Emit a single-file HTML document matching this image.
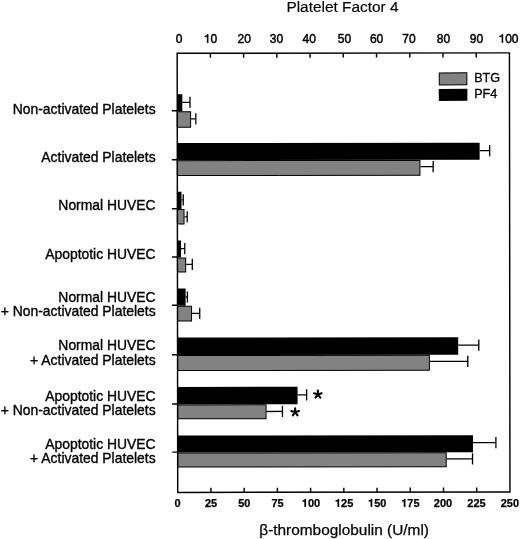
<!DOCTYPE html><html><head><meta charset="utf-8"><style>html,body{margin:0;padding:0;background:#fff;}svg{display:block;}text{font-family:"Liberation Sans",sans-serif;fill:#000;}</style></head><body>
<svg width="520" height="539" viewBox="0 0 520 539">
<rect width="520" height="539" fill="#fff"/>
<defs><filter id="bl" x="0" y="0" width="1" height="1"><feGaussianBlur stdDeviation="0.35"/></filter></defs><g filter="url(#bl)"><rect width="520" height="539" fill="#fff"/>
<g stroke="#000" stroke-width="0.35">
<text x="286.4" y="11.7" font-size="15.4" stroke-width="0.15">Platelet Factor 4</text>
<text x="175.76" y="42.80" font-size="12" stroke-width="0.45">0</text>
<path transform="translate(203.73,42.80) scale(0.01200,-0.01200)" d="M283 0L373 0L373 709L300 709C285 640 240 585 85 565L85 495L283 495Z" fill="#000" stroke="#000" stroke-width="37.5"/>
<text x="210.40" y="42.80" font-size="12" stroke-width="0.45">0</text>
<text x="237.53" y="42.80" font-size="12" stroke-width="0.45">2</text>
<text x="244.20" y="42.80" font-size="12" stroke-width="0.45">0</text>
<text x="269.83" y="42.80" font-size="12" stroke-width="0.45">3</text>
<text x="276.50" y="42.80" font-size="12" stroke-width="0.45">0</text>
<text x="302.53" y="42.80" font-size="12" stroke-width="0.45">4</text>
<text x="309.20" y="42.80" font-size="12" stroke-width="0.45">0</text>
<text x="337.83" y="42.80" font-size="12" stroke-width="0.45">5</text>
<text x="344.50" y="42.80" font-size="12" stroke-width="0.45">0</text>
<text x="369.93" y="42.80" font-size="12" stroke-width="0.45">6</text>
<text x="376.60" y="42.80" font-size="12" stroke-width="0.45">0</text>
<text x="402.33" y="42.80" font-size="12" stroke-width="0.45">7</text>
<text x="409.00" y="42.80" font-size="12" stroke-width="0.45">0</text>
<text x="436.83" y="42.80" font-size="12" stroke-width="0.45">8</text>
<text x="443.50" y="42.80" font-size="12" stroke-width="0.45">0</text>
<text x="469.73" y="42.80" font-size="12" stroke-width="0.45">9</text>
<text x="476.40" y="42.80" font-size="12" stroke-width="0.45">0</text>
<path transform="translate(498.49,42.80) scale(0.01200,-0.01200)" d="M283 0L373 0L373 709L300 709C285 640 240 585 85 565L85 495L283 495Z" fill="#000" stroke="#000" stroke-width="37.5"/>
<text x="505.16" y="42.80" font-size="12" stroke-width="0.45">0</text>
<text x="511.84" y="42.80" font-size="12" stroke-width="0.45">0</text>
<text x="174.44" y="506.80" font-size="11" font-weight="bold" stroke-width="0.25">0</text>
<text x="204.98" y="506.80" font-size="11" font-weight="bold" stroke-width="0.25">2</text>
<text x="211.10" y="506.80" font-size="11" font-weight="bold" stroke-width="0.25">5</text>
<text x="238.18" y="506.80" font-size="11" font-weight="bold" stroke-width="0.25">5</text>
<text x="244.30" y="506.80" font-size="11" font-weight="bold" stroke-width="0.25">0</text>
<text x="271.38" y="506.80" font-size="11" font-weight="bold" stroke-width="0.25">7</text>
<text x="277.50" y="506.80" font-size="11" font-weight="bold" stroke-width="0.25">5</text>
<path transform="translate(301.82,506.80) scale(0.01100,-0.01100)" d="M239 0L378 0L378 710L279 710C258 626 200 590 69 586L69 486L239 486Z" fill="#000" stroke="#000" stroke-width="22.7"/>
<text x="307.94" y="506.80" font-size="11" font-weight="bold" stroke-width="0.25">0</text>
<text x="314.06" y="506.80" font-size="11" font-weight="bold" stroke-width="0.25">0</text>
<path transform="translate(334.92,506.80) scale(0.01100,-0.01100)" d="M239 0L378 0L378 710L279 710C258 626 200 590 69 586L69 486L239 486Z" fill="#000" stroke="#000" stroke-width="22.7"/>
<text x="341.04" y="506.80" font-size="11" font-weight="bold" stroke-width="0.25">2</text>
<text x="347.16" y="506.80" font-size="11" font-weight="bold" stroke-width="0.25">5</text>
<path transform="translate(368.02,506.80) scale(0.01100,-0.01100)" d="M239 0L378 0L378 710L279 710C258 626 200 590 69 586L69 486L239 486Z" fill="#000" stroke="#000" stroke-width="22.7"/>
<text x="374.14" y="506.80" font-size="11" font-weight="bold" stroke-width="0.25">5</text>
<text x="380.26" y="506.80" font-size="11" font-weight="bold" stroke-width="0.25">0</text>
<path transform="translate(401.22,506.80) scale(0.01100,-0.01100)" d="M239 0L378 0L378 710L279 710C258 626 200 590 69 586L69 486L239 486Z" fill="#000" stroke="#000" stroke-width="22.7"/>
<text x="407.34" y="506.80" font-size="11" font-weight="bold" stroke-width="0.25">7</text>
<text x="413.46" y="506.80" font-size="11" font-weight="bold" stroke-width="0.25">5</text>
<text x="433.82" y="506.80" font-size="11" font-weight="bold" stroke-width="0.25">2</text>
<text x="439.94" y="506.80" font-size="11" font-weight="bold" stroke-width="0.25">0</text>
<text x="446.06" y="506.80" font-size="11" font-weight="bold" stroke-width="0.25">0</text>
<text x="467.32" y="506.80" font-size="11" font-weight="bold" stroke-width="0.25">2</text>
<text x="473.44" y="506.80" font-size="11" font-weight="bold" stroke-width="0.25">2</text>
<text x="479.56" y="506.80" font-size="11" font-weight="bold" stroke-width="0.25">5</text>
<text x="500.72" y="506.80" font-size="11" font-weight="bold" stroke-width="0.25">2</text>
<text x="506.84" y="506.80" font-size="11" font-weight="bold" stroke-width="0.25">5</text>
<text x="512.96" y="506.80" font-size="11" font-weight="bold" stroke-width="0.25">0</text>
<text x="155.6" y="113.95" font-size="13.9" text-anchor="end">Non-activated Platelets</text>
<text x="155.6" y="162.10" font-size="13.9" text-anchor="end">Activated Platelets</text>
<text x="155.6" y="209.70" font-size="13.9" text-anchor="end">Normal HUVEC</text>
<text x="155.6" y="259.20" font-size="13.9" text-anchor="end">Apoptotic HUVEC</text>
<text x="155.6" y="301.70" font-size="13.9" text-anchor="end">Normal HUVEC</text>
<text x="155.6" y="316.40" font-size="13.9" text-anchor="end">+ Non-activated Platelets</text>
<text x="155.6" y="350.40" font-size="13.9" text-anchor="end">Normal HUVEC</text>
<text x="155.6" y="364.50" font-size="13.9" text-anchor="end">+ Activated Platelets</text>
<text x="155.6" y="400.60" font-size="13.9" text-anchor="end">Apoptotic HUVEC</text>
<text x="155.6" y="414.50" font-size="13.9" text-anchor="end">+ Non-activated Platelets</text>
<text x="155.6" y="449.20" font-size="13.9" text-anchor="end">Apoptotic HUVEC</text>
<text x="155.6" y="462.80" font-size="13.9" text-anchor="end">+ Activated Platelets</text>
<text x="259.3" y="534.6" font-size="15.4" stroke-width="0.25">β-thromboglobulin (U/ml)</text>
</g>
<text x="474.2" y="81.6" font-size="12.6" stroke="#000" stroke-width="0.3">BTG</text>
<text x="474.2" y="97.5" font-size="12.6" stroke="#000" stroke-width="0.3">PF4</text>
<path d="M317.85 394.50L317.85 390.50M317.85 394.50L321.65 393.26M317.85 394.50L320.20 397.74M317.85 394.50L315.50 397.74M317.85 394.50L314.05 393.26" stroke="#000" stroke-width="2.1" stroke-linecap="round" fill="none"/>
<path d="M295.15 412.20L295.15 408.20M295.15 412.20L298.95 410.96M295.15 412.20L297.50 415.44M295.15 412.20L292.80 415.44M295.15 412.20L291.35 410.96" stroke="#000" stroke-width="2.1" stroke-linecap="round" fill="none"/>
<g transform="rotate(-0.07 343 272)">
<line x1="210.67" y1="53.10" x2="210.67" y2="57.60" stroke="#000" stroke-width="1.45"/>
<line x1="243.90" y1="53.10" x2="243.90" y2="57.60" stroke="#000" stroke-width="1.45"/>
<line x1="277.12" y1="53.10" x2="277.12" y2="57.60" stroke="#000" stroke-width="1.45"/>
<line x1="310.35" y1="53.10" x2="310.35" y2="57.60" stroke="#000" stroke-width="1.45"/>
<line x1="343.57" y1="53.10" x2="343.57" y2="57.60" stroke="#000" stroke-width="1.45"/>
<line x1="376.80" y1="53.10" x2="376.80" y2="57.60" stroke="#000" stroke-width="1.45"/>
<line x1="410.02" y1="53.10" x2="410.02" y2="57.60" stroke="#000" stroke-width="1.45"/>
<line x1="443.25" y1="53.10" x2="443.25" y2="57.60" stroke="#000" stroke-width="1.45"/>
<line x1="476.47" y1="53.10" x2="476.47" y2="57.60" stroke="#000" stroke-width="1.45"/>
<line x1="210.67" y1="492.20" x2="210.67" y2="487.70" stroke="#000" stroke-width="1.45"/>
<line x1="243.90" y1="492.20" x2="243.90" y2="487.70" stroke="#000" stroke-width="1.45"/>
<line x1="277.12" y1="492.20" x2="277.12" y2="487.70" stroke="#000" stroke-width="1.45"/>
<line x1="310.35" y1="492.20" x2="310.35" y2="487.70" stroke="#000" stroke-width="1.45"/>
<line x1="343.57" y1="492.20" x2="343.57" y2="487.70" stroke="#000" stroke-width="1.45"/>
<line x1="376.80" y1="492.20" x2="376.80" y2="487.70" stroke="#000" stroke-width="1.45"/>
<line x1="410.02" y1="492.20" x2="410.02" y2="487.70" stroke="#000" stroke-width="1.45"/>
<line x1="443.25" y1="492.20" x2="443.25" y2="487.70" stroke="#000" stroke-width="1.45"/>
<line x1="476.47" y1="492.20" x2="476.47" y2="487.70" stroke="#000" stroke-width="1.45"/>
<rect x="177.45" y="94.10" width="5.05" height="16.90" fill="#000"/>
<line x1="182.50" y1="102.20" x2="190.20" y2="102.20" stroke="#000" stroke-width="1.3"/>
<line x1="190.20" y1="96.60" x2="190.20" y2="107.80" stroke="#000" stroke-width="1.3"/>
<rect x="177.45" y="111.50" width="13.35" height="15.50" fill="#828282" stroke="#000" stroke-width="1.0"/>
<line x1="191.30" y1="118.60" x2="196.00" y2="118.60" stroke="#000" stroke-width="1.3"/>
<line x1="196.00" y1="113.00" x2="196.00" y2="124.20" stroke="#000" stroke-width="1.3"/>
<line x1="172.0" y1="110.60" x2="177.45" y2="110.60" stroke="#000" stroke-width="1.45"/>
<rect x="177.45" y="142.80" width="302.35" height="17.20" fill="#000"/>
<line x1="479.80" y1="150.80" x2="489.80" y2="150.80" stroke="#000" stroke-width="1.3"/>
<line x1="489.80" y1="145.20" x2="489.80" y2="156.40" stroke="#000" stroke-width="1.3"/>
<rect x="177.45" y="160.50" width="242.65" height="14.90" fill="#828282" stroke="#000" stroke-width="1.0"/>
<line x1="420.60" y1="166.80" x2="433.30" y2="166.80" stroke="#000" stroke-width="1.3"/>
<line x1="433.30" y1="161.20" x2="433.30" y2="172.40" stroke="#000" stroke-width="1.3"/>
<line x1="172.0" y1="159.60" x2="177.45" y2="159.60" stroke="#000" stroke-width="1.45"/>
<rect x="177.45" y="191.50" width="4.15" height="17.40" fill="#000"/>
<line x1="181.60" y1="199.70" x2="183.30" y2="199.70" stroke="#000" stroke-width="1.3"/>
<line x1="183.30" y1="194.10" x2="183.30" y2="205.30" stroke="#000" stroke-width="1.3"/>
<rect x="177.45" y="209.40" width="6.65" height="14.50" fill="#828282" stroke="#000" stroke-width="1.0"/>
<line x1="184.60" y1="216.60" x2="187.30" y2="216.60" stroke="#000" stroke-width="1.3"/>
<line x1="187.30" y1="211.00" x2="187.30" y2="222.20" stroke="#000" stroke-width="1.3"/>
<line x1="172.0" y1="208.50" x2="177.45" y2="208.50" stroke="#000" stroke-width="1.45"/>
<rect x="177.45" y="240.30" width="3.65" height="16.90" fill="#000"/>
<line x1="181.10" y1="248.40" x2="184.80" y2="248.40" stroke="#000" stroke-width="1.3"/>
<line x1="184.80" y1="242.80" x2="184.80" y2="254.00" stroke="#000" stroke-width="1.3"/>
<rect x="177.45" y="257.70" width="8.25" height="14.00" fill="#828282" stroke="#000" stroke-width="1.0"/>
<line x1="186.20" y1="264.20" x2="192.30" y2="264.20" stroke="#000" stroke-width="1.3"/>
<line x1="192.30" y1="258.60" x2="192.30" y2="269.80" stroke="#000" stroke-width="1.3"/>
<line x1="172.0" y1="256.80" x2="177.45" y2="256.80" stroke="#000" stroke-width="1.45"/>
<rect x="177.45" y="288.30" width="8.15" height="17.20" fill="#000"/>
<line x1="185.60" y1="296.80" x2="187.40" y2="296.80" stroke="#000" stroke-width="1.3"/>
<line x1="187.40" y1="291.20" x2="187.40" y2="302.40" stroke="#000" stroke-width="1.3"/>
<rect x="177.45" y="306.00" width="14.05" height="14.80" fill="#828282" stroke="#000" stroke-width="1.0"/>
<line x1="192.00" y1="313.20" x2="199.70" y2="313.20" stroke="#000" stroke-width="1.3"/>
<line x1="199.70" y1="307.60" x2="199.70" y2="318.80" stroke="#000" stroke-width="1.3"/>
<line x1="172.0" y1="305.10" x2="177.45" y2="305.10" stroke="#000" stroke-width="1.45"/>
<rect x="177.45" y="337.30" width="280.65" height="17.60" fill="#000"/>
<line x1="458.10" y1="345.20" x2="478.70" y2="345.20" stroke="#000" stroke-width="1.3"/>
<line x1="478.70" y1="339.60" x2="478.70" y2="350.80" stroke="#000" stroke-width="1.3"/>
<rect x="177.45" y="355.40" width="251.85" height="15.00" fill="#828282" stroke="#000" stroke-width="1.0"/>
<line x1="429.80" y1="361.50" x2="467.70" y2="361.50" stroke="#000" stroke-width="1.3"/>
<line x1="467.70" y1="355.90" x2="467.70" y2="367.10" stroke="#000" stroke-width="1.3"/>
<line x1="172.0" y1="354.50" x2="177.45" y2="354.50" stroke="#000" stroke-width="1.45"/>
<rect x="177.45" y="386.70" width="119.95" height="17.50" fill="#000"/>
<line x1="297.40" y1="394.90" x2="306.50" y2="394.90" stroke="#000" stroke-width="1.3"/>
<line x1="306.50" y1="389.30" x2="306.50" y2="400.50" stroke="#000" stroke-width="1.3"/>
<rect x="177.45" y="404.70" width="88.45" height="13.90" fill="#828282" stroke="#000" stroke-width="1.0"/>
<line x1="266.40" y1="411.40" x2="282.30" y2="411.40" stroke="#000" stroke-width="1.3"/>
<line x1="282.30" y1="405.80" x2="282.30" y2="417.00" stroke="#000" stroke-width="1.3"/>
<line x1="172.0" y1="403.80" x2="177.45" y2="403.80" stroke="#000" stroke-width="1.45"/>
<rect x="177.45" y="435.30" width="295.35" height="17.00" fill="#000"/>
<line x1="472.80" y1="442.80" x2="495.70" y2="442.80" stroke="#000" stroke-width="1.3"/>
<line x1="495.70" y1="437.20" x2="495.70" y2="448.40" stroke="#000" stroke-width="1.3"/>
<rect x="177.45" y="452.80" width="268.55" height="14.00" fill="#828282" stroke="#000" stroke-width="1.0"/>
<line x1="446.50" y1="459.00" x2="472.30" y2="459.00" stroke="#000" stroke-width="1.3"/>
<line x1="472.30" y1="453.40" x2="472.30" y2="464.60" stroke="#000" stroke-width="1.3"/>
<line x1="172.0" y1="451.90" x2="177.45" y2="451.90" stroke="#000" stroke-width="1.45"/>
<path d="M177.45 492.20 V53.10 H509.70 V492.20 Z" fill="none" stroke="#000" stroke-width="1.45"/>
<rect x="439.5" y="73" width="27.6" height="12" fill="#828282" stroke="#000" stroke-width="1"/>
<rect x="439" y="89" width="28.6" height="12" fill="#000"/>
</g>
</g>
</svg></body></html>
